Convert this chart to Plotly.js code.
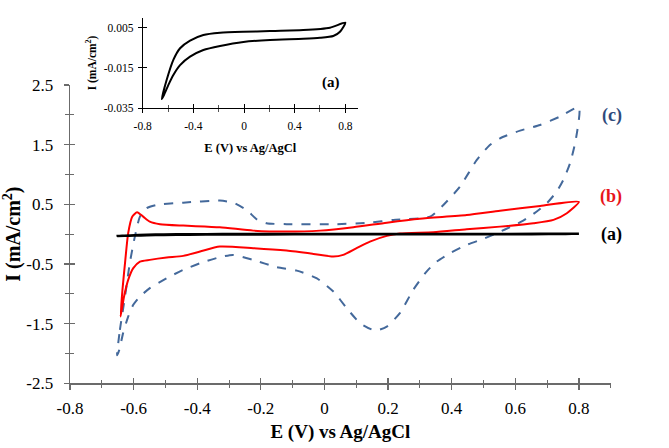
<!DOCTYPE html>
<html>
<head>
<meta charset="utf-8">
<script src="https://cdn.plot.ly/plotly-3.0.1.min.js"></script>
<style>html,body{margin:0;padding:0;background:#fff;}#chart{width:669px;height:448px;}</style>
</head>
<body>
<div id="chart"></div>
<script>
// Curve (a): bare electrode (also shown in inset)
const Ea = [-0.650,-0.611,-0.558,-0.505,-0.426,-0.321,-0.189,-0.005,0.205,0.468,0.679,0.800,
            0.758,0.705,0.600,0.468,0.205,-0.005,-0.189,-0.321,-0.426,-0.505,-0.558,-0.597,-0.632,-0.650];
const Ia = [-0.0304,-0.0210,-0.0110,-0.0052,-0.0014,0.0014,0.0025,0.0030,0.0033,0.0038,0.0050,0.0075,
            0.0030,0.0009,0.0000,-0.0005,-0.0011,-0.0021,-0.0041,-0.0061,-0.0094,-0.0136,-0.0185,-0.0234,-0.0284,-0.0304];

// Curve (b): red
const Eb = [-0.641,-0.635,-0.626,-0.617,-0.604,-0.589,-0.570,-0.549,-0.517,-0.444,-0.329,-0.224,-0.119,-0.014,0.091,0.196,0.300,0.447,0.552,0.678,0.800,
            0.762,0.720,0.657,0.552,0.447,0.342,0.237,0.196,0.143,0.101,0.059,0.028,-0.035,-0.119,-0.224,-0.329,-0.391,-0.444,-0.496,-0.549,-0.580,-0.601,-0.617,-0.630,-0.641];
const Ib = [-1.381,-0.934,-0.431,0.016,0.294,0.368,0.294,0.210,0.167,0.143,0.116,0.059,0.043,0.059,0.116,0.193,0.260,0.322,0.394,0.473,0.540,
            0.351,0.239,0.183,0.126,0.083,0.033,0.010,-0.029,-0.125,-0.235,-0.348,-0.376,-0.331,-0.276,-0.235,-0.209,-0.292,-0.364,-0.393,-0.431,-0.460,-0.570,-0.766,-1.046,-1.381];

// Curve (c): blue dashed
const Ec = [-0.652,-0.643,-0.627,-0.612,-0.596,-0.580,-0.559,-0.528,-0.444,-0.329,-0.287,-0.245,-0.213,-0.182,-0.119,0.038,0.143,0.216,0.332,0.374,0.426,0.479,0.520,0.552,0.615,0.678,0.740,0.800,
            0.790,0.772,0.751,0.730,0.699,0.657,0.625,0.594,0.541,0.499,0.447,0.395,0.353,0.321,0.279,0.237,0.196,0.159,0.112,0.070,0.028,-0.025,-0.087,-0.150,-0.224,-0.287,-0.329,-0.391,-0.444,-0.496,-0.549,-0.580,-0.601,-0.617,-0.633,-0.645,-0.652];
const Ic = [-2.030,-1.604,-1.046,-0.487,-0.041,0.294,0.435,0.490,0.528,0.562,0.528,0.406,0.250,0.183,0.167,0.167,0.193,0.239,0.294,0.490,0.796,1.244,1.495,1.607,1.735,1.830,1.969,2.126,
            1.579,1.188,0.909,0.713,0.518,0.339,0.227,0.143,0.016,-0.080,-0.180,-0.319,-0.460,-0.627,-0.934,-1.324,-1.549,-1.616,-1.492,-1.240,-0.962,-0.738,-0.611,-0.554,-0.431,-0.348,-0.386,-0.487,-0.599,-0.738,-0.905,-1.046,-1.185,-1.381,-1.659,-1.939,-2.030];

// Tick labels
const mainXTicks = [-0.8,-0.6,-0.4,-0.2,0,0.2,0.4,0.6,0.8];
const mainXText = ["-0.8","-0.6","-0.4","-0.2","0","0.2","0.4","0.6","0.8"];
const mainYTicks = [-2.5,-1.5,-0.5,0.5,1.5,2.5];
const mainYText = ["-2.5","-1.5","-0.5","0.5","1.5","2.5"];
const insetXTicks = [-0.8,-0.4,0,0.4,0.8];
const insetXText = ["-0.8","-0.4","0","0.4","0.8"];
const insetYTicks = [-0.035,-0.015,0.005];
const insetYText = ["-0.035","-0.015","0.005"];

const FONT = "'Liberation Serif', serif";
const AX = '#6b6b6b';

const traces = [
  {x: Ec, y: Ic, xaxis:'x', yaxis:'y', mode:'lines', line:{color:'#44699b', width:2, dash:'dash', shape:'spline', smoothing:0.6}},
  {x: Eb, y: Ib, xaxis:'x', yaxis:'y', mode:'lines', line:{color:'#ff0000', width:2, shape:'spline', smoothing:0.6}},
  {x: Ea, y: Ia, xaxis:'x', yaxis:'y', mode:'lines', line:{color:'#000000', width:2.5, shape:'spline', smoothing:0.6}},
  {x: Ea, y: Ia, xaxis:'x2', yaxis:'y2', mode:'lines', line:{color:'#000000', width:2, shape:'spline', smoothing:0.6}},
  // empty traces that only switch on the overlay axes carrying the inner half of the crossing ticks
  {x: [], y: [], xaxis:'x3', yaxis:'y', mode:'lines'},
  {x: [], y: [], xaxis:'x', yaxis:'y3', mode:'lines'},
  {x: [], y: [], xaxis:'x4', yaxis:'y2', mode:'lines'},
  {x: [], y: [], xaxis:'x2', yaxis:'y4', mode:'lines'}
];

const axCommon = {showgrid:false, zeroline:false, fixedrange:true};

const layout = {
  width: 669, height: 448,
  margin: {l:0, r:0, t:0, b:0},
  paper_bgcolor:'#fff', plot_bgcolor:'rgba(0,0,0,0)',
  showlegend:false,
  font:{family:FONT, color:'#000'},
  xaxis: Object.assign({}, axCommon, {
    domain:[0.1046,0.9129], range:[-0.8,0.9], anchor:'y', showline:true, ticks:'outside',
    tickmode:'array', tickvals:mainXTicks, ticktext:mainXText,
    linecolor:AX, linewidth:1.3, tickcolor:AX, ticklen:5, tickwidth:1.3,
    ticklabelstandoff:4,
    minor:{tick0:-0.8, dtick:0.1, ticklen:3, tickcolor:AX, ticks:'outside', tickwidth:1},
    tickfont:{family:FONT, size:17, color:'#000'},
    title:{text:'<b>E (V) vs Ag/AgCl</b>', font:{family:FONT, size:19, color:'#000'}, standoff:7}
  }),
  yaxis: Object.assign({}, axCommon, {
    domain:[0.1444,0.8103], range:[-2.5,2.5], anchor:'x', showline:true, ticks:'outside',
    tickmode:'array', tickvals:mainYTicks, ticktext:mainYText,
    linecolor:AX, linewidth:1.3, tickcolor:AX, ticklen:5, tickwidth:1.3,
    ticklabelstandoff:7,
    minor:{tick0:-2.5, dtick:0.5, ticklen:4, tickcolor:AX, ticks:'outside', tickwidth:1},
    tickfont:{family:FONT, size:17, color:'#000'},
    title:{text:'<b>I (mA/cm<sup>2</sup>)</b>', font:{family:FONT, size:20, color:'#000'}, standoff:4}
  }),
  xaxis3: Object.assign({}, axCommon, {
    domain:[0.1046,0.9129], range:[-0.8,0.9], anchor:'y', overlaying:'x', side:'bottom', showline:false, ticks:'inside',
    tickmode:'array', tickvals:mainXTicks, showticklabels:false,
    tickcolor:AX, ticklen:5, tickwidth:1.3,
    minor:{tick0:-0.8, dtick:0.1, ticklen:3, tickcolor:AX, ticks:'inside', tickwidth:1}
  }),
  yaxis3: Object.assign({}, axCommon, {
    domain:[0.1444,0.8103], range:[-2.5,2.5], anchor:'x', overlaying:'y', side:'left', showline:false, ticks:'inside',
    tickmode:'array', tickvals:mainYTicks, showticklabels:false,
    tickcolor:AX, ticklen:5, tickwidth:1.3,
    minor:{tick0:-2.5, dtick:0.5, ticklen:4, tickcolor:AX, ticks:'inside', tickwidth:1}
  }),
  xaxis2: Object.assign({}, axCommon, {
    domain:[0.2133,0.5351], range:[-0.8,0.9], anchor:'y2', showline:true, ticks:'outside',
    tickmode:'array', tickvals:insetXTicks, ticktext:insetXText,
    linecolor:'#000', linewidth:1, tickcolor:'#000', ticklen:4, tickwidth:1,
    ticklabelstandoff:3,
    minor:{tick0:-0.8, dtick:0.2, ticklen:3, tickcolor:'#555', ticks:'outside'},
    tickfont:{family:FONT, size:11.5, color:'#000'},
    title:{text:'<b>E (V) vs Ag/AgCl</b>', font:{family:FONT, size:12.5, color:'#000'}, standoff:12}
  }),
  yaxis2: Object.assign({}, axCommon, {
    domain:[0.7583,0.9607], range:[-0.035,0.01], anchor:'x2', showline:true, ticks:'outside',
    tickmode:'array', tickvals:insetYTicks, ticktext:insetYText,
    linecolor:'#000', linewidth:1, tickcolor:'#000', ticklen:4, tickwidth:1,
    ticklabelstandoff:2,
    tickfont:{family:FONT, size:11.5, color:'#000'},
    title:{text:'<b>I (mA/cm<sup>2</sup>)</b>', font:{family:FONT, size:11.5, color:'#000'}, standoff:4}
  }),
  xaxis4: Object.assign({}, axCommon, {
    domain:[0.2133,0.5351], range:[-0.8,0.9], anchor:'y2', overlaying:'x2', side:'bottom', showline:false, ticks:'inside',
    tickmode:'array', tickvals:insetXTicks, showticklabels:false,
    tickcolor:'#000', ticklen:4, tickwidth:1,
    minor:{tick0:-0.8, dtick:0.2, ticklen:3, tickcolor:'#555', ticks:'inside'}
  }),
  yaxis4: Object.assign({}, axCommon, {
    domain:[0.7583,0.9607], range:[-0.035,0.01], anchor:'x2', overlaying:'y2', side:'left', showline:false, ticks:'inside',
    tickmode:'array', tickvals:insetYTicks, showticklabels:false,
    tickcolor:'#000', ticklen:4, tickwidth:1
  }),
  annotations: [
    {xref:'paper', yref:'paper', x:624/669, y:(448-102.7)/448, text:'<b>(c)</b>', showarrow:false, font:{family:FONT, size:18, color:'#2f4a7c'}},
    {xref:'paper', yref:'paper', x:624/669, y:(448-196.7)/448, text:'<b>(b)</b>', showarrow:false, font:{family:FONT, size:18, color:'#e8141b'}},
    {xref:'paper', yref:'paper', x:624/669, y:(448-234)/448, text:'<b>(a)</b>', showarrow:false, font:{family:FONT, size:18, color:'#000'}},
    {xref:'paper', yref:'paper', x:331/669, y:(448-72)/448, text:'<b>(a)</b>', showarrow:false, font:{family:FONT, size:15, color:'#000'}}
  ]
};

Plotly.newPlot('chart', traces, layout, {displayModeBar:false, staticPlot:true});
</script>
</body>
</html>
